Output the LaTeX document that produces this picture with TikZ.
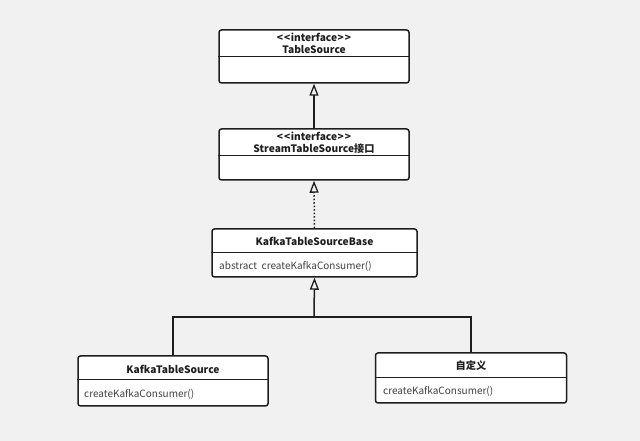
\documentclass[tikz,border=0pt]{standalone}
\usepackage{fontspec}
\setmainfont{Noto Sans CJK SC}
\usetikzlibrary{arrows.meta}
\definecolor{bg}{HTML}{F1F1F1}
\definecolor{ln}{HTML}{1E1E1E}
\begin{document}
\begin{tikzpicture}[x=1pt,y=1pt,
  cls/.style={draw=ln, line width=1.5pt, fill=white, rounded corners=2.5pt, inner sep=0pt},
  ttl/.style={font=\fontsize{10.2}{12}\selectfont\bfseries, text=ln, inner sep=0pt},
  mth/.style={font=\fontsize{10}{12}\selectfont, text=ln!85, inner sep=0pt, anchor=west},
  sep/.style={draw=ln, line width=1.2pt},
  inh/.style={draw=ln, line width=1.5pt, -{Triangle[open, length=12pt, width=9pt, line width=1.3pt]}},
  real/.style={inh, dotted}
]
\fill[bg] (0,0) rectangle (640,441);
\useasboundingbox (0,0) rectangle (640,441);
% boxes
\node[cls, minimum width=190, minimum height=53] (b1) at (314,384.5) {};
\node[cls, minimum width=190, minimum height=51] (b2) at (314,286.5) {};
\node[cls, minimum width=205, minimum height=48] (b3) at (314.5,188) {};
\node[cls, minimum width=190, minimum height=50] (b4) at (173,60) {};
\node[cls, minimum width=191, minimum height=50] (b5) at (471,63) {};
% dividers
\draw[sep] ([yshift=-27]b1.north west) -- ([yshift=-27]b1.north east);
\draw[sep] ([yshift=-27]b2.north west) -- ([yshift=-27]b2.north east);
\draw[sep] ([yshift=-24]b3.north west) -- ([yshift=-24]b3.north east);
\draw[sep] ([yshift=-24]b4.north west) -- ([yshift=-24]b4.north east);
\draw[sep] ([yshift=-25]b5.north west) -- ([yshift=-25]b5.north east);
% texts
\node[ttl] (t1a) at (314,404) {<\kern1pt<\kern0.5pt interface\kern0.5pt>\kern1pt>};
\node[ttl] (t1b) at (314,391) {TableSource};
\node[ttl] (t2a) at (314,305) {<\kern1pt<\kern0.5pt interface\kern0.5pt>\kern1pt>};
\node[ttl] (t2b) at (314,292) {StreamTableSource接口};
\node[ttl] (t3) at (314.5,200) {KafkaTableSourceBase};
\node[mth] (m3) at (219,175) {abstract\ \ createKafkaConsumer()};
\node[ttl] (t4) at (173,72) {KafkaTableSource};
\node[mth] (m4) at (84,47) {createKafkaConsumer()};
\node[ttl] (t5) at (471,75) {自定义};
\node[mth] (m5) at (383,50) {createKafkaConsumer()};
% connectors
\coordinate (j) at (314,124);
\draw[inh] (b2.north) -- (b1.south);
\draw[real] (b3.north) -- (b2.south);
\draw[inh] (j) -- (b3.south);
\draw[draw=ln, line width=1.5pt] (b4.north) |- (j) -| (b5.north);
\end{tikzpicture}
\end{document}
